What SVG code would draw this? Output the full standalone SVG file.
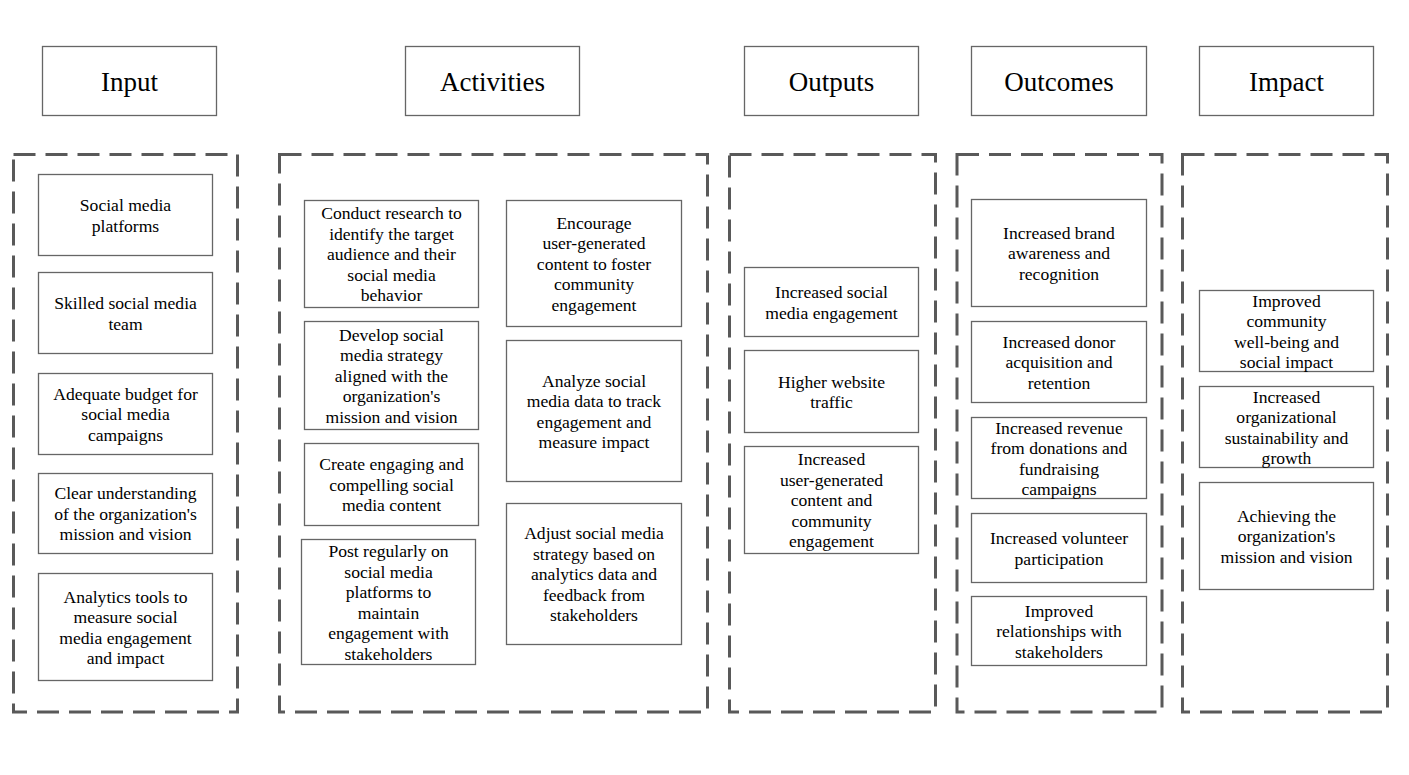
<svg xmlns="http://www.w3.org/2000/svg" width="1409" height="775" viewBox="0 0 1409 775">
<style>
.hdr{fill:#fff;stroke:#666;stroke-width:1.3}
.box{fill:#fff;stroke:#666;stroke-width:1.3}
.grp{fill:none;stroke:#595959;stroke-width:3;stroke-dasharray:22 10}
.ht{font-size:27px;fill:#000;text-anchor:middle}
.t{font-size:17.6px;fill:#000;text-anchor:middle}
</style>
<rect width="1409" height="775" fill="#fff"/>
<g id="containers">
<rect class="grp" x="13.5" y="154.5" width="224" height="557.5"/>
<rect class="grp" x="279.5" y="154.5" width="428" height="557.5"/>
<rect class="grp" x="729.5" y="154.5" width="206" height="557.5"/>
<rect class="grp" x="957" y="154.5" width="205" height="557.5"/>
<rect class="grp" x="1182.5" y="154.5" width="205" height="557.5"/>
</g>
<g id="connectors"></g>
<g font-family="'Liberation Serif', 'DejaVu Serif', serif">
<g id="h-input"><rect class="hdr" x="42.5" y="46.5" width="174" height="69"/><text class="ht" x="129.5" y="90.5">Input</text></g>
<g id="h-activities"><rect class="hdr" x="405.5" y="46.5" width="174" height="69"/><text class="ht" x="492.5" y="90.5">Activities</text></g>
<g id="h-outputs"><rect class="hdr" x="744.5" y="46.5" width="174" height="69"/><text class="ht" x="831.5" y="90.5">Outputs</text></g>
<g id="h-outcomes"><rect class="hdr" x="971.5" y="46.5" width="175" height="69"/><text class="ht" x="1059" y="90.5">Outcomes</text></g>
<g id="h-impact"><rect class="hdr" x="1199.5" y="46.5" width="174" height="69"/><text class="ht" x="1286.5" y="90.5">Impact</text></g>

<g id="in1"><rect class="box" x="38.5" y="174.5" width="174" height="81"/><text class="t" x="125.5" y="211"><tspan x="125.5">Social media</tspan><tspan x="125.5" dy="20.5">platforms</tspan></text></g>
<g id="in2"><rect class="box" x="38.5" y="272.5" width="174" height="81"/><text class="t" x="125.5" y="309"><tspan x="125.5">Skilled social media</tspan><tspan x="125.5" dy="20.5">team</tspan></text></g>
<g id="in3"><rect class="box" x="38.5" y="373.5" width="174" height="81"/><text class="t" x="125.5" y="399.8"><tspan x="125.5">Adequate budget for</tspan><tspan x="125.5" dy="20.5">social media</tspan><tspan x="125.5" dy="20.5">campaigns</tspan></text></g>
<g id="in4"><rect class="box" x="38.5" y="473.5" width="174" height="80"/><text class="t" x="125.5" y="499.3"><tspan x="125.5">Clear understanding</tspan><tspan x="125.5" dy="20.5">of the organization's</tspan><tspan x="125.5" dy="20.5">mission and vision</tspan></text></g>
<g id="in5"><rect class="box" x="38.5" y="573.5" width="174" height="107"/><text class="t" x="125.5" y="602.5"><tspan x="125.5">Analytics tools to</tspan><tspan x="125.5" dy="20.5">measure social</tspan><tspan x="125.5" dy="20.5">media engagement</tspan><tspan x="125.5" dy="20.5">and impact</tspan></text></g>

<g id="a1"><rect class="box" x="304.5" y="200.5" width="174" height="107"/><text class="t" x="391.5" y="219.3"><tspan x="391.5">Conduct research to</tspan><tspan x="391.5" dy="20.5">identify the target</tspan><tspan x="391.5" dy="20.5">audience and their</tspan><tspan x="391.5" dy="20.5">social media</tspan><tspan x="391.5" dy="20.5">behavior</tspan></text></g>
<g id="a2"><rect class="box" x="304.5" y="321.5" width="174" height="108"/><text class="t" x="391.5" y="340.8"><tspan x="391.5">Develop social</tspan><tspan x="391.5" dy="20.5">media strategy</tspan><tspan x="391.5" dy="20.5">aligned with the</tspan><tspan x="391.5" dy="20.5">organization's</tspan><tspan x="391.5" dy="20.5">mission and vision</tspan></text></g>
<g id="a3"><rect class="box" x="304.5" y="443.5" width="174" height="82"/><text class="t" x="391.5" y="470.3"><tspan x="391.5">Create engaging and</tspan><tspan x="391.5" dy="20.5">compelling social</tspan><tspan x="391.5" dy="20.5">media content</tspan></text></g>
<g id="a4"><rect class="box" x="301.5" y="539.5" width="174" height="125"/><text class="t" x="388.5" y="557"><tspan x="388.5">Post regularly on</tspan><tspan x="388.5" dy="20.5">social media</tspan><tspan x="388.5" dy="20.5">platforms to</tspan><tspan x="388.5" dy="20.5">maintain</tspan><tspan x="388.5" dy="20.5">engagement with</tspan><tspan x="388.5" dy="20.5">stakeholders</tspan></text></g>
<g id="b1"><rect class="box" x="506.5" y="200.5" width="175" height="126"/><text class="t" x="594" y="228.8"><tspan x="594">Encourage</tspan><tspan x="594" dy="20.5">user-generated</tspan><tspan x="594" dy="20.5">content to foster</tspan><tspan x="594" dy="20.5">community</tspan><tspan x="594" dy="20.5">engagement</tspan></text></g>
<g id="b2"><rect class="box" x="506.5" y="340.5" width="175" height="141"/><text class="t" x="594" y="386.5"><tspan x="594">Analyze social</tspan><tspan x="594" dy="20.5">media data to track</tspan><tspan x="594" dy="20.5">engagement and</tspan><tspan x="594" dy="20.5">measure impact</tspan></text></g>
<g id="b3"><rect class="box" x="506.5" y="503.5" width="175" height="141"/><text class="t" x="594" y="539.3"><tspan x="594">Adjust social media</tspan><tspan x="594" dy="20.5">strategy based on</tspan><tspan x="594" dy="20.5">analytics data and</tspan><tspan x="594" dy="20.5">feedback from</tspan><tspan x="594" dy="20.5">stakeholders</tspan></text></g>

<g id="o1"><rect class="box" x="744.5" y="267.5" width="174" height="69"/><text class="t" x="831.5" y="298"><tspan x="831.5">Increased social</tspan><tspan x="831.5" dy="20.5">media engagement</tspan></text></g>
<g id="o2"><rect class="box" x="744.5" y="350.5" width="174" height="82"/><text class="t" x="831.5" y="387.5"><tspan x="831.5">Higher website</tspan><tspan x="831.5" dy="20.5">traffic</tspan></text></g>
<g id="o3"><rect class="box" x="744.5" y="446.5" width="174" height="107"/><text class="t" x="831.5" y="465.3"><tspan x="831.5">Increased</tspan><tspan x="831.5" dy="20.5">user-generated</tspan><tspan x="831.5" dy="20.5">content and</tspan><tspan x="831.5" dy="20.5">community</tspan><tspan x="831.5" dy="20.5">engagement</tspan></text></g>

<g id="c1"><rect class="box" x="971.5" y="199.5" width="175" height="107"/><text class="t" x="1059" y="238.8"><tspan x="1059">Increased brand</tspan><tspan x="1059" dy="20.5">awareness and</tspan><tspan x="1059" dy="20.5">recognition</tspan></text></g>
<g id="c2"><rect class="box" x="971.5" y="321.5" width="175" height="81"/><text class="t" x="1059" y="347.8"><tspan x="1059">Increased donor</tspan><tspan x="1059" dy="20.5">acquisition and</tspan><tspan x="1059" dy="20.5">retention</tspan></text></g>
<g id="c3"><rect class="box" x="971.5" y="417.5" width="175" height="81"/><text class="t" x="1059" y="433.5"><tspan x="1059">Increased revenue</tspan><tspan x="1059" dy="20.5">from donations and</tspan><tspan x="1059" dy="20.5">fundraising</tspan><tspan x="1059" dy="20.5">campaigns</tspan></text></g>
<g id="c4"><rect class="box" x="971.5" y="513.5" width="175" height="69"/><text class="t" x="1059" y="544"><tspan x="1059">Increased volunteer</tspan><tspan x="1059" dy="20.5">participation</tspan></text></g>
<g id="c5"><rect class="box" x="971.5" y="596.5" width="175" height="69"/><text class="t" x="1059" y="616.8"><tspan x="1059">Improved</tspan><tspan x="1059" dy="20.5">relationships with</tspan><tspan x="1059" dy="20.5">stakeholders</tspan></text></g>

<g id="i1"><rect class="box" x="1199.5" y="290.5" width="174" height="81"/><text class="t" x="1286.5" y="306.5"><tspan x="1286.5">Improved</tspan><tspan x="1286.5" dy="20.5">community</tspan><tspan x="1286.5" dy="20.5">well-being and</tspan><tspan x="1286.5" dy="20.5">social impact</tspan></text></g>
<g id="i2"><rect class="box" x="1199.5" y="386.5" width="174" height="81"/><text class="t" x="1286.5" y="402.5"><tspan x="1286.5">Increased</tspan><tspan x="1286.5" dy="20.5">organizational</tspan><tspan x="1286.5" dy="20.5">sustainability and</tspan><tspan x="1286.5" dy="20.5">growth</tspan></text></g>
<g id="i3"><rect class="box" x="1199.5" y="482.5" width="174" height="107"/><text class="t" x="1286.5" y="521.8"><tspan x="1286.5">Achieving the</tspan><tspan x="1286.5" dy="20.5">organization's</tspan><tspan x="1286.5" dy="20.5">mission and vision</tspan></text></g>
</g>
</svg>
